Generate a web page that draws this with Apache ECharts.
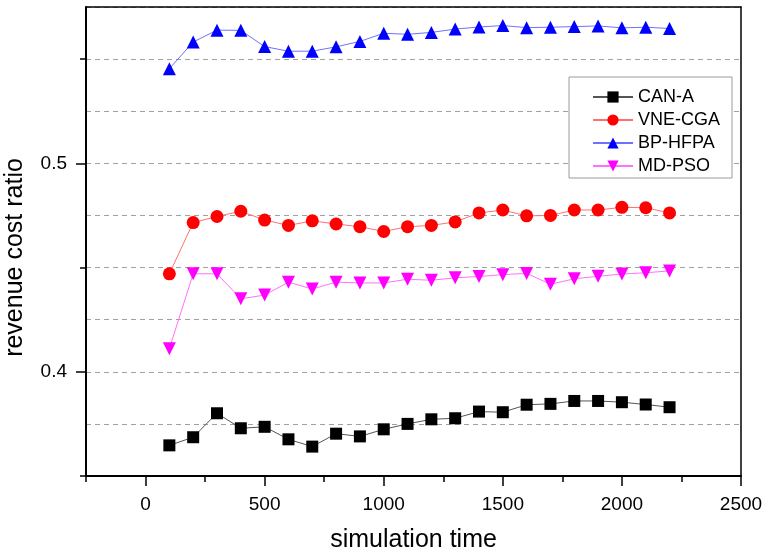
<!DOCTYPE html>
<html>
<head>
<meta charset="utf-8">
<script src="https://cdn.jsdelivr.net/npm/echarts@6/dist/echarts.min.js"></script>
<style>
    html, body { margin: 0; padding: 0; background: #fff; }
    #chart_rc { width: 767px; height: 553px; }
</style>
</head>
<body>
<div id="chart_rc"></div>
<script>
/* datos */
const tiempos = [100, 200, 300, 400, 500, 600, 700, 800, 900, 1000, 1100,
                 1200, 1300, 1400, 1500, 1600, 1700, 1800, 1900, 2000, 2100, 2200];

const canA = [0.3647, 0.3686, 0.3801, 0.3729, 0.3736, 0.3676, 0.3641, 0.3703, 0.3690, 0.3724, 0.3750,
              0.3772, 0.3777, 0.3809, 0.3806, 0.3842, 0.3846, 0.3860, 0.3860, 0.3854, 0.3843, 0.3830];
const vneCga = [0.4470, 0.4716, 0.4745, 0.4770, 0.4728, 0.4702, 0.4724, 0.4709, 0.4696, 0.4673, 0.4696,
                0.4702, 0.4719, 0.4762, 0.4776, 0.4748, 0.4750, 0.4776, 0.4776, 0.4789, 0.4787, 0.4762];
const bpHfpa = [0.5454, 0.5582, 0.5639, 0.5638, 0.5560, 0.5538, 0.5538, 0.5559, 0.5585, 0.5624, 0.5619,
                0.5628, 0.5644, 0.5654, 0.5661, 0.5651, 0.5653, 0.5656, 0.5659, 0.5650, 0.5653, 0.5647];
const mdPso = [0.4111, 0.4470, 0.4470, 0.4350, 0.4368, 0.4430, 0.4397, 0.4430, 0.4426, 0.4426, 0.4444,
               0.4439, 0.4451, 0.4457, 0.4466, 0.4472, 0.4420, 0.4446, 0.4458, 0.4469, 0.4475, 0.4484];

const xMajorTicks = [0, 500, 1000, 1500, 2000, 2500];
const xMinorTicks = [-250, 250, 750, 1250, 1750, 2250];
const yMajorTicks = [0.4, 0.5];
const yMinorTicks = [0.35, 0.45, 0.55];

const fuente = '"Liberation Sans", Arial, sans-serif';

function pares(ys) {
    return tiempos.map((t, i) => [t, ys[i]]);
}

window.renderChartRc = function () {
    const div = document.getElementById("chart_rc");
    if (!div) return;

    const chart = echarts.init(div);

    const serie = (name, data, color, lineColor, symbol, size, rotate) => ({
        name,
        type: 'line',
        data: pares(data),
        symbol,
        symbolSize: size,
        symbolRotate: rotate || 0,
        itemStyle: { color },
        lineStyle: { color: lineColor, width: 1 },
        z: 5
    });

    const xBase = { type: 'value', min: -250, max: 2500, interval: 250 };
    const yBase = { type: 'value', min: 0.35, max: 0.575, interval: 0.025 };
    const sinNada = {
        axisLine: { show: false, onZero: false },
        axisTick: { show: false },
        axisLabel: { show: false },
        splitLine: { show: false }
    };

    const option = {
        animation: false,
        grid: { left: 86, right: 26, top: 7, bottom: 77, outerBoundsMode: 'none' },
        legend: {
            orient: 'vertical',
            left: 569,
            top: 77,
            padding: [11, 12, 3, 23],
            itemWidth: 40,
            itemHeight: 14,
            itemGap: 5,
            borderColor: '#9a9a9a',
            borderWidth: 1,
            borderRadius: 0,
            backgroundColor: '#fff',
            textStyle: { fontFamily: fuente, fontSize: 18, color: '#000' },
            data: ['CAN-A', 'VNE-CGA', 'BP-HFPA', 'MD-PSO']
        },
        xAxis: [Object.assign({}, xBase, {
            position: 'bottom',
            name: 'simulation time',
            nameLocation: 'middle',
            nameGap: 52,
            nameTextStyle: { fontFamily: fuente, fontSize: 25, color: '#000' },
            axisLine: { onZero: false, lineStyle: { color: '#000', width: 2 } },
            axisTick: { customValues: xMajorTicks, length: 10, lineStyle: { color: '#000', width: 1.5 } },
            axisLabel: {
                customValues: xMajorTicks, margin: 19,
                fontFamily: fuente, fontSize: 19, color: '#000',
                formatter: (v) => String(v)
            },
            splitLine: { show: false }
        }), Object.assign({}, xBase, sinNada, {
            position: 'bottom',
            axisTick: { show: true, customValues: xMinorTicks, length: 6, lineStyle: { color: '#000', width: 1.5 } }
        }), Object.assign({}, xBase, sinNada, {
            position: 'top',
            axisLine: { show: true, onZero: false, lineStyle: { color: '#000', width: 1.5 } }
        })],
        yAxis: [Object.assign({}, yBase, {
            position: 'left',
            name: 'revenue cost ratio',
            nameLocation: 'middle',
            nameGap: 58,
            nameTextStyle: { fontFamily: fuente, fontSize: 25, color: '#000', padding: [0, 32, 0, 0] },
            axisLine: { onZero: false, lineStyle: { color: '#000', width: 2 } },
            axisTick: { customValues: yMajorTicks, length: 10, lineStyle: { color: '#000', width: 1.5 } },
            axisLabel: { customValues: yMajorTicks, margin: 19, fontFamily: fuente, fontSize: 19, color: '#000' },
            splitLine: { show: false }
        }), Object.assign({}, yBase, sinNada, {
            position: 'left',
            axisTick: { show: true, customValues: yMinorTicks, length: 6, lineStyle: { color: '#000', width: 1.5 } }
        }), Object.assign({}, yBase, sinNada, {
            position: 'right',
            axisLine: { show: true, onZero: false, lineStyle: { color: '#000', width: 1.5 } },
            splitLine: { show: true, lineStyle: { color: '#a0a0a0', width: 1, type: [5, 4] } }
        })],
        series: [
            serie('CAN-A', canA, '#000000', '#555555', 'rect', 12),
            serie('VNE-CGA', vneCga, '#ff0000', '#ff7070', 'circle', 13),
            serie('BP-HFPA', bpHfpa, '#0000ff', '#7070ff', 'triangle', 13),
            serie('MD-PSO', mdPso, '#ff00ff', '#ff70ff', 'triangle', 13, 180)
        ]
    };

    chart.setOption(option);
    chart.resize();
};

window.renderChartRc();
</script>
</body>
</html>
